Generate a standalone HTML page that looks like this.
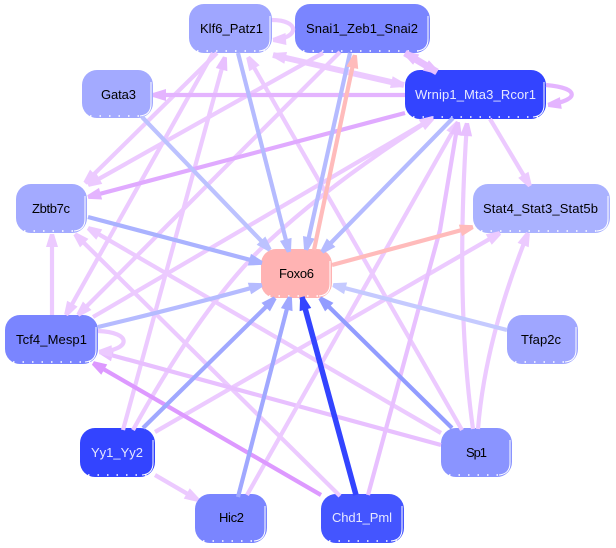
<!DOCTYPE html>
<html><head><meta charset="utf-8"><style>
html,body{margin:0;padding:0;background:#fff;width:616px;height:548px;overflow:hidden}
svg{display:block}
text{font-family:"Liberation Sans",sans-serif;font-size:13px;fill:#000}
.w{fill:#e6e8ff}
.e{fill:none;stroke-width:4.2}
.r{fill:none;stroke:#fff;stroke-width:1}
.d{fill:none;stroke:#fff;stroke-width:1.5;stroke-dasharray:1.5 8}
</style></head><body>
<svg width="616" height="548" viewBox="0 0 616 548" xmlns="http://www.w3.org/2000/svg">
<defs>
<marker id="a1" markerUnits="userSpaceOnUse" markerWidth="16" markerHeight="16" refX="13" refY="6" orient="auto-start-reverse" overflow="visible"><polygon points="0,0 13,4 13,8 0,12" fill="#eccaff"/></marker>
<marker id="a2" markerUnits="userSpaceOnUse" markerWidth="16" markerHeight="16" refX="13" refY="6" orient="auto-start-reverse" overflow="visible"><polygon points="0,0 13,4 13,8 0,12" fill="#e8c0ff"/></marker>
<marker id="a3" markerUnits="userSpaceOnUse" markerWidth="16" markerHeight="16" refX="13" refY="6" orient="auto-start-reverse" overflow="visible"><polygon points="0,0 13,4 13,8 0,12" fill="#e4b4ff"/></marker>
<marker id="a4" markerUnits="userSpaceOnUse" markerWidth="16" markerHeight="16" refX="13" refY="6" orient="auto-start-reverse" overflow="visible"><polygon points="0,0 13,4 13,8 0,12" fill="#dd99ff"/></marker>
<marker id="pk" markerUnits="userSpaceOnUse" markerWidth="16" markerHeight="16" refX="13" refY="6" orient="auto-start-reverse" overflow="visible"><polygon points="0,0 13,4 13,8 0,12" fill="#ffbbbb"/></marker>
<marker id="b1" markerUnits="userSpaceOnUse" markerWidth="16" markerHeight="16" refX="13" refY="6" orient="auto-start-reverse" overflow="visible"><polygon points="0,0 13,4 13,8 0,12" fill="#bcc2ff"/></marker>
<marker id="b2" markerUnits="userSpaceOnUse" markerWidth="16" markerHeight="16" refX="13" refY="6" orient="auto-start-reverse" overflow="visible"><polygon points="0,0 13,4 13,8 0,12" fill="#b5bbff"/></marker>
<marker id="b3" markerUnits="userSpaceOnUse" markerWidth="16" markerHeight="16" refX="13" refY="6" orient="auto-start-reverse" overflow="visible"><polygon points="0,0 13,4 13,8 0,12" fill="#aab2ff"/></marker>
<marker id="b4" markerUnits="userSpaceOnUse" markerWidth="16" markerHeight="16" refX="13" refY="6" orient="auto-start-reverse" overflow="visible"><polygon points="0,0 13,4 13,8 0,12" fill="#c5caff"/></marker>
<marker id="b5" markerUnits="userSpaceOnUse" markerWidth="16" markerHeight="16" refX="13" refY="6" orient="auto-start-reverse" overflow="visible"><polygon points="0,0 13,4 13,8 0,12" fill="#a0a8ff"/></marker>
<marker id="b6" markerUnits="userSpaceOnUse" markerWidth="16" markerHeight="16" refX="13" refY="6" orient="auto-start-reverse" overflow="visible"><polygon points="0,0 13,4 13,8 0,12" fill="#929cff"/></marker>
<marker id="b7" markerUnits="userSpaceOnUse" markerWidth="16" markerHeight="16" refX="13" refY="6" orient="auto-start-reverse" overflow="visible"><polygon points="0,0 13,4 13,8 0,12" fill="#3344ff"/></marker>
</defs>
<rect width="616" height="548" fill="#fff"/>

<!-- nodes -->
<g transform="translate(189,4)"><rect width="83" height="49" rx="15" fill="#9fa6ff"/><path class="r" d="M81,12V35Q81,46 70,47"/><path class="d" d="M8,47H76"/></g>
<g transform="translate(295,4)"><rect width="135" height="49" rx="15" fill="#7a85ff"/><path class="r" d="M133,12V35Q133,46 122,47"/><path class="d" d="M8,47H128"/></g>
<g transform="translate(405,70)"><rect width="141" height="49" rx="15" fill="#3344ff"/><path class="r" d="M139,12V35Q139,46 128,47"/><path class="d" d="M8,47H134"/></g>
<g transform="translate(82,70)"><rect width="71" height="48" rx="15" fill="#a3aaff"/><path class="r" d="M69,12V34Q69,45 58,46"/><path class="d" d="M8,46H64"/></g>
<g transform="translate(473,184)"><rect width="137" height="49" rx="15" fill="#aab2ff"/><path class="r" d="M135,12V35Q135,46 124,47"/><path class="d" d="M8,47H130"/></g>
<g transform="translate(16,184)"><rect width="71" height="49" rx="15" fill="#a3aaff"/><path class="r" d="M69,12V35Q69,46 58,47"/><path class="d" d="M8,47H64"/></g>
<g transform="translate(261,249)"><rect width="71" height="49" rx="15" fill="#ffb3b3"/><path class="r" d="M69,12V35Q69,46 58,47"/><path class="d" d="M8,47H64"/></g>
<g transform="translate(5,315)"><rect width="93" height="49" rx="15" fill="#7a85ff"/><path class="r" d="M91,12V35Q91,46 80,47"/><path class="d" d="M8,47H86"/></g>
<g transform="translate(507,315)"><rect width="71" height="49" rx="15" fill="#9fa6ff"/><path class="r" d="M69,12V35Q69,46 58,47"/><path class="d" d="M8,47H64"/></g>
<g transform="translate(80,428)"><rect width="75" height="49" rx="15" fill="#3344ff"/><path class="r" d="M73,12V35Q73,46 62,47"/><path class="d" d="M8,47H68"/></g>
<g transform="translate(441,428)"><rect width="71" height="49" rx="15" fill="#8a94ff"/><path class="r" d="M69,12V35Q69,46 58,47"/><path class="d" d="M8,47H64"/></g>
<g transform="translate(195,494)"><rect width="72" height="49" rx="15" fill="#7a85ff"/><path class="r" d="M70,12V35Q70,46 59,47"/><path class="d" d="M8,47H65"/></g>
<g transform="translate(321,494)"><rect width="83" height="49" rx="15" fill="#4455ff"/><path class="r" d="M81,12V35Q81,46 70,47"/><path class="d" d="M8,47H76"/></g>

<g class="e">
<path class="e" stroke="#eccaff" d="M217,53L85,183" marker-end="url(#a1)"/>
<path class="e" stroke="#eccaff" d="M323,53L88,185" marker-end="url(#a1)"/>
<path class="e" stroke="#eccaff" d="M213,53L66,315" marker-end="url(#a1)"/>
<path class="e" stroke="#eccaff" d="M340,52L78,315" marker-end="url(#a1)"/>
<path class="e" stroke="#eccaff" d="M93,317L433,118" marker-end="url(#a1)"/>
<path class="e" stroke="#eccaff" d="M133,430Q205,300 270,240Q335,180 433,118" marker-end="url(#a1)"/>
<path class="e" stroke="#eccaff" d="M123,430L225,57" marker-end="url(#a2)"/>
<path class="e" stroke="#eccaff" d="M155,432L500,233" marker-end="url(#a1)"/>
<path class="e" stroke="#eccaff" d="M462,430L248,57" marker-end="url(#a1)"/>
<path class="e" stroke="#eccaff" d="M441,433L88,228" marker-end="url(#a1)"/>
<path class="e" stroke="#eccaff" d="M340,496L75,234" marker-end="url(#a1)"/>
<path class="e" stroke="#e8c0ff" d="M441,445L100,352" marker-end="url(#a2)"/>
<path class="e" stroke="#eccaff" d="M247,495L458,122" marker-end="url(#a1)"/>
<path class="e" stroke="#e8c0ff" d="M368,495L440,230L458,122" marker-end="url(#a2)"/>
<path class="e" stroke="#eccaff" d="M473,429Q455,300 467,123" marker-end="url(#a2)"/>
<path class="e" stroke="#eccaff" d="M478,429Q485,340 528,233" marker-end="url(#a1)"/>
<path class="e" stroke="#eccaff" d="M490,119L530,186" marker-end="url(#a1)"/>
<path class="e" stroke="#eccaff" d="M52,315V234" marker-end="url(#a1)"/>
<path class="e" stroke="#eccaff" d="M155,475L198,500" marker-end="url(#a1)"/>
<path class="e" stroke="#eccaff" style="stroke-width:6" d="M273,55L404,85" marker-start="url(#a1)" marker-end="url(#a1)"/>
<path class="e" stroke="#e8c0ff" style="stroke-width:7" d="M405,53L437,72" marker-start="url(#a2)" marker-end="url(#a2)"/>
<path class="e" stroke="#eccaff" d="M272,20C300,20 300,38 273,40" marker-end="url(#a1)"/>
<path class="e" stroke="#e4b4ff" d="M546,85C580,88 580,100 548,105" marker-end="url(#a3)"/>
<path class="e" stroke="#eccaff" d="M98,331C132,332 132,350 99,352" marker-end="url(#a1)"/>
<path class="e" stroke="#e4b4ff" d="M405,95H153" marker-end="url(#a3)"/>
<path class="e" stroke="#e0aaff" d="M405,113L88,197" marker-end="url(#a3)"/>
<path class="e" stroke="#dd99ff" d="M321,495L93,363" marker-end="url(#a4)"/>
<path class="e" stroke="#bcc2ff" d="M142,117L270,250" marker-end="url(#b1)"/>
<path class="e" stroke="#b5bbff" d="M238,53L289,252" marker-end="url(#b2)"/>
<path class="e" stroke="#b5bbff" d="M350,53L306,250" marker-end="url(#b2)"/>
<path class="e" stroke="#b5bbff" d="M453,118L322,252" marker-end="url(#b2)"/>
<path class="e" stroke="#aab2ff" d="M88,217L262,263" marker-end="url(#b3)"/>
<path class="e" stroke="#b5bbff" d="M98,327Q190,305 262,285" marker-end="url(#b2)"/>
<path class="e" stroke="#c5caff" d="M507,330L333,285" marker-end="url(#b4)"/>
<path class="e" stroke="#a0a8ff" d="M143,428L275,298" marker-end="url(#b5)"/>
<path class="e" stroke="#a0a8ff" d="M238,497L290,297" marker-end="url(#b5)"/>
<path class="e" stroke="#929cff" d="M452,428L320,298" marker-end="url(#b6)"/>
<path class="e" stroke="#3344ff" style="stroke-width:5.5" d="M356,495L302,297" marker-end="url(#b7)"/>
<path class="e" stroke="#ffbbbb" d="M314,250L355,55" marker-end="url(#pk)"/>
<path class="e" stroke="#ffbbbb" d="M332,265L473,227" marker-end="url(#pk)"/>
</g>

<text x="200" y="33" textLength="63" lengthAdjust="spacing">Klf6_Patz1</text>
<text x="306" y="33" textLength="112" lengthAdjust="spacing">Snai1_Zeb1_Snai2</text>
<text class="w" x="415" y="99" textLength="121" lengthAdjust="spacing">Wrnip1_Mta3_Rcor1</text>
<text x="101" y="99" textLength="35" lengthAdjust="spacing">Gata3</text>
<text x="483" y="213" textLength="115" lengthAdjust="spacing">Stat4_Stat3_Stat5b</text>
<text x="32" y="213" textLength="38" lengthAdjust="spacing">Zbtb7c</text>
<text x="279" y="278" textLength="35" lengthAdjust="spacing">Foxo6</text>
<text x="16" y="344" textLength="71" lengthAdjust="spacing">Tcf4_Mesp1</text>
<text x="521" y="344" textLength="40" lengthAdjust="spacing">Tfap2c</text>
<text class="w" x="91" y="457" textLength="52" lengthAdjust="spacing">Yy1_Yy2</text>
<text x="466" y="457" textLength="21" lengthAdjust="spacing">Sp1</text>
<text x="219" y="522" textLength="25" lengthAdjust="spacing">Hic2</text>
<text class="w" x="332" y="522" textLength="60" lengthAdjust="spacing">Chd1_Pml</text>
</svg>
</body></html>
